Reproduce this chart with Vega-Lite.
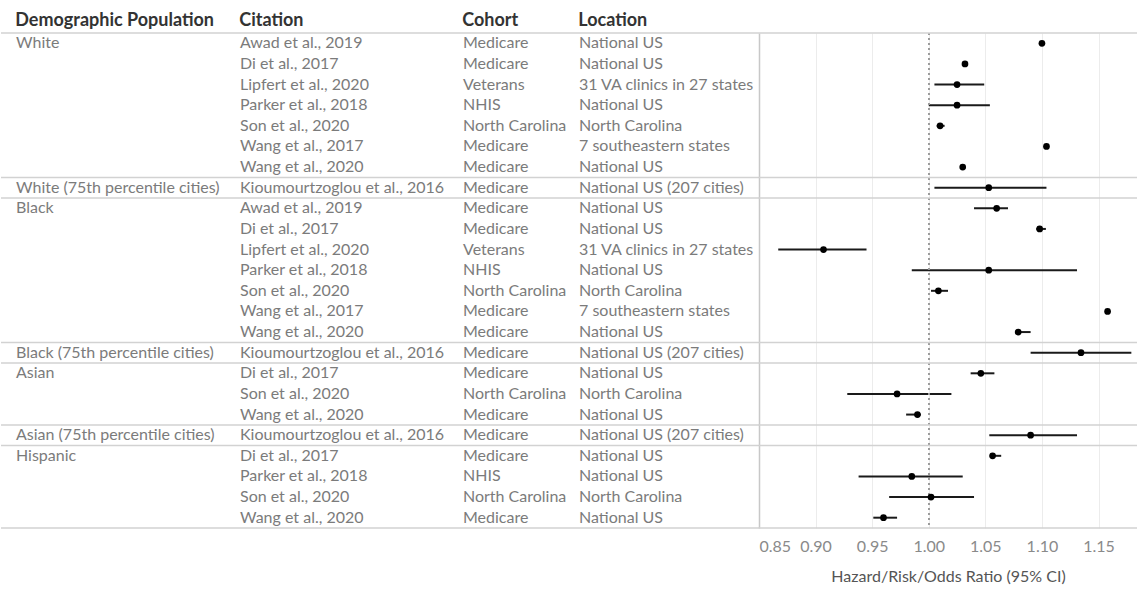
{
  "$schema": "https://vega.github.io/schema/vega-lite/v6.json",
  "padding": {"left": 0, "top": 12, "right": 2, "bottom": 5},
  "spacing": 0,
  "bounds": "flush",
  "background": "white",
  "config": {
    "view": {"stroke": null},
    "font": "Lato",
    "title": {"anchor": "start", "fontSize": 18, "fontWeight": "bold", "color": "#333333", "offset": 2, "font": "Lato"},
    "text": {"font": "Lato"}
  },
  "data": {"values": [
    {"row": 1, "group": "White", "citation": "Awad et al., 2019", "cohort": "Medicare", "location": "National US", "est": 1.100, "lo": 1.099, "hi": 1.101},
    {"row": 2, "group": "White", "citation": "Di et al., 2017", "cohort": "Medicare", "location": "National US", "est": 1.032, "lo": 1.030, "hi": 1.034},
    {"row": 3, "group": "White", "citation": "Lipfert et al., 2020", "cohort": "Veterans", "location": "31 VA clinics in 27 states", "est": 1.025, "lo": 1.005, "hi": 1.049},
    {"row": 4, "group": "White", "citation": "Parker et al., 2018", "cohort": "NHIS", "location": "National US", "est": 1.025, "lo": 1.000, "hi": 1.054},
    {"row": 5, "group": "White", "citation": "Son et al., 2020", "cohort": "North Carolina", "location": "North Carolina", "est": 1.010, "lo": 1.007, "hi": 1.014},
    {"row": 6, "group": "White", "citation": "Wang et al., 2017", "cohort": "Medicare", "location": "7 southeastern states", "est": 1.104, "lo": 1.103, "hi": 1.105},
    {"row": 7, "group": "White", "citation": "Wang et al., 2020", "cohort": "Medicare", "location": "National US", "est": 1.030, "lo": 1.029, "hi": 1.031},
    {"row": 8, "group": "White (75th percentile cities)", "citation": "Kioumourtzoglou et al., 2016", "cohort": "Medicare", "location": "National US (207 cities)", "est": 1.053, "lo": 1.005, "hi": 1.104},
    {"row": 9, "group": "Black", "citation": "Awad et al., 2019", "cohort": "Medicare", "location": "National US", "est": 1.060, "lo": 1.040, "hi": 1.070},
    {"row": 10, "group": "Black", "citation": "Di et al., 2017", "cohort": "Medicare", "location": "National US", "est": 1.098, "lo": 1.095, "hi": 1.1035},
    {"row": 11, "group": "Black", "citation": "Lipfert et al., 2020", "cohort": "Veterans", "location": "31 VA clinics in 27 states", "est": 0.907, "lo": 0.867, "hi": 0.945},
    {"row": 12, "group": "Black", "citation": "Parker et al., 2018", "cohort": "NHIS", "location": "National US", "est": 1.053, "lo": 0.985, "hi": 1.131},
    {"row": 13, "group": "Black", "citation": "Son et al., 2020", "cohort": "North Carolina", "location": "North Carolina", "est": 1.0085, "lo": 1.002, "hi": 1.017},
    {"row": 14, "group": "Black", "citation": "Wang et al., 2017", "cohort": "Medicare", "location": "7 southeastern states", "est": 1.158, "lo": 1.156, "hi": 1.160},
    {"row": 15, "group": "Black", "citation": "Wang et al., 2020", "cohort": "Medicare", "location": "National US", "est": 1.079, "lo": 1.077, "hi": 1.090},
    {"row": 16, "group": "Black (75th percentile cities)", "citation": "Kioumourtzoglou et al., 2016", "cohort": "Medicare", "location": "National US (207 cities)", "est": 1.1345, "lo": 1.090, "hi": 1.179},
    {"row": 17, "group": "Asian", "citation": "Di et al., 2017", "cohort": "Medicare", "location": "National US", "est": 1.046, "lo": 1.037, "hi": 1.058},
    {"row": 18, "group": "Asian", "citation": "Son et al., 2020", "cohort": "North Carolina", "location": "North Carolina", "est": 0.972, "lo": 0.928, "hi": 1.020},
    {"row": 19, "group": "Asian", "citation": "Wang et al., 2020", "cohort": "Medicare", "location": "National US", "est": 0.990, "lo": 0.980, "hi": 0.993},
    {"row": 20, "group": "Asian (75th percentile cities)", "citation": "Kioumourtzoglou et al., 2016", "cohort": "Medicare", "location": "National US (207 cities)", "est": 1.090, "lo": 1.0535, "hi": 1.131},
    {"row": 21, "group": "Hispanic", "citation": "Di et al., 2017", "cohort": "Medicare", "location": "National US", "est": 1.0564, "lo": 1.054, "hi": 1.064},
    {"row": 22, "group": "Hispanic", "citation": "Parker et al., 2018", "cohort": "NHIS", "location": "National US", "est": 0.985, "lo": 0.938, "hi": 1.030},
    {"row": 23, "group": "Hispanic", "citation": "Son et al., 2020", "cohort": "North Carolina", "location": "North Carolina", "est": 1.002, "lo": 0.965, "hi": 1.040},
    {"row": 24, "group": "Hispanic", "citation": "Wang et al., 2020", "cohort": "Medicare", "location": "National US", "est": 0.960, "lo": 0.951, "hi": 0.972}
  ]},
  "resolve": {"scale": {"y": "shared"}},
  "hconcat": [
    {
      "width": 235, "height": 495,
      "title": {"text": "Demographic Population", "dx": 15},
      "layer": [
        {
          "transform": [{"aggregate": [{"op": "min", "field": "row", "as": "row"}], "groupby": ["group"]}],
          "mark": {"type": "text", "align": "left", "baseline": "middle", "dx": 15, "fontSize": 16, "color": "#7b7b7b"},
          "encoding": {
            "y": {"field": "row", "type": "ordinal", "axis": null, "scale": {"type": "band", "paddingInner": 0, "paddingOuter": 0}},
            "x": {"datum": 0, "type": "quantitative", "scale": {"domain": [0, 1]}, "axis": null},
            "text": {"field": "group"}
          }
        },
        {
          "transform": [{"aggregate": [{"op": "min", "field": "row", "as": "row"}], "groupby": ["group"]}],
          "mark": {"type": "rule", "color": "#d2d2d2", "strokeWidth": 1.5},
          "encoding": {"y": {"field": "row", "type": "ordinal", "bandPosition": 0, "axis": null}}
        },
        {
          "transform": [{"aggregate": [{"op": "max", "field": "row", "as": "row"}]}],
          "mark": {"type": "rule", "color": "#d2d2d2", "strokeWidth": 1.5},
          "encoding": {"y": {"field": "row", "type": "ordinal", "bandPosition": 1, "axis": null}}
        }
      ]
    },
    {
      "width": 223, "height": 495,
      "title": {"text": "Citation", "dx": 4},
      "layer": [
        {
          "mark": {"type": "text", "align": "left", "baseline": "middle", "dx": 4, "fontSize": 16, "color": "#7b7b7b"},
          "encoding": {
            "y": {"field": "row", "type": "ordinal", "axis": null, "scale": {"type": "band", "paddingInner": 0, "paddingOuter": 0}},
            "x": {"datum": 0, "type": "quantitative", "scale": {"domain": [0, 1]}, "axis": null},
            "text": {"field": "citation"}
          }
        },
        {
          "transform": [{"aggregate": [{"op": "min", "field": "row", "as": "row"}], "groupby": ["group"]}],
          "mark": {"type": "rule", "color": "#d2d2d2", "strokeWidth": 1.5},
          "encoding": {"y": {"field": "row", "type": "ordinal", "bandPosition": 0, "axis": null}}
        },
        {
          "transform": [{"aggregate": [{"op": "max", "field": "row", "as": "row"}]}],
          "mark": {"type": "rule", "color": "#d2d2d2", "strokeWidth": 1.5},
          "encoding": {"y": {"field": "row", "type": "ordinal", "bandPosition": 1, "axis": null}}
        }
      ]
    },
    {
      "width": 116, "height": 495,
      "title": {"text": "Cohort", "dx": 4},
      "layer": [
        {
          "mark": {"type": "text", "align": "left", "baseline": "middle", "dx": 4, "fontSize": 16, "color": "#7b7b7b"},
          "encoding": {
            "y": {"field": "row", "type": "ordinal", "axis": null, "scale": {"type": "band", "paddingInner": 0, "paddingOuter": 0}},
            "x": {"datum": 0, "type": "quantitative", "scale": {"domain": [0, 1]}, "axis": null},
            "text": {"field": "cohort"}
          }
        },
        {
          "transform": [{"aggregate": [{"op": "min", "field": "row", "as": "row"}], "groupby": ["group"]}],
          "mark": {"type": "rule", "color": "#d2d2d2", "strokeWidth": 1.5},
          "encoding": {"y": {"field": "row", "type": "ordinal", "bandPosition": 0, "axis": null}}
        },
        {
          "transform": [{"aggregate": [{"op": "max", "field": "row", "as": "row"}]}],
          "mark": {"type": "rule", "color": "#d2d2d2", "strokeWidth": 1.5},
          "encoding": {"y": {"field": "row", "type": "ordinal", "bandPosition": 1, "axis": null}}
        }
      ]
    },
    {
      "width": 184, "height": 495,
      "title": {"text": "Location", "dx": 4},
      "layer": [
        {
          "mark": {"type": "text", "align": "left", "baseline": "middle", "dx": 4, "fontSize": 16, "color": "#7b7b7b"},
          "encoding": {
            "y": {"field": "row", "type": "ordinal", "axis": null, "scale": {"type": "band", "paddingInner": 0, "paddingOuter": 0}},
            "x": {"datum": 0, "type": "quantitative", "scale": {"domain": [0, 1]}, "axis": null},
            "text": {"field": "location"}
          }
        },
        {
          "transform": [{"aggregate": [{"op": "min", "field": "row", "as": "row"}], "groupby": ["group"]}],
          "mark": {"type": "rule", "color": "#d2d2d2", "strokeWidth": 1.5},
          "encoding": {"y": {"field": "row", "type": "ordinal", "bandPosition": 0, "axis": null}}
        },
        {
          "transform": [{"aggregate": [{"op": "max", "field": "row", "as": "row"}]}],
          "mark": {"type": "rule", "color": "#d2d2d2", "strokeWidth": 1.5},
          "encoding": {"y": {"field": "row", "type": "ordinal", "bandPosition": 1, "axis": null}}
        }
      ]
    },
    {
      "width": 378, "height": 495,
      "layer": [
        {
          "mark": {"type": "rule", "color": "#1a1a1a", "strokeWidth": 2},
          "encoding": {
            "y": {"field": "row", "type": "ordinal", "scale": {"type": "band", "paddingInner": 0, "paddingOuter": 0},
                  "axis": {"labels": false, "ticks": false, "domain": true, "domainColor": "#c8c8c8", "domainWidth": 1.5, "grid": false, "title": null}},
            "x": {"field": "lo", "type": "quantitative",
                  "scale": {"domain": [0.85, 1.184], "nice": false, "zero": false},
                  "axis": {"values": [0.85, 0.9, 0.95, 1.0, 1.05, 1.1, 1.15], "format": ".2f", "grid": true, "gridColor": "#ececec",
                           "ticks": false, "domain": false, "labelFlush": true, "labelFontSize": 16, "labelColor": "#8a8a8a",
                           "labelFont": "Lato", "labelPadding": 10,
                           "title": "Hazard/Risk/Odds Ratio (95% CI)", "titleFontSize": 16, "titleFontWeight": "normal",
                           "titleColor": "#555555", "titleFont": "Lato", "titlePadding": 14}},
            "x2": {"field": "hi"}
          }
        },
        {
          "mark": {"type": "rule", "color": "#9a9a9a", "strokeDash": [2, 3], "strokeWidth": 1},
          "encoding": {"x": {"datum": 1, "type": "quantitative"}}
        },
        {
          "transform": [{"aggregate": [{"op": "min", "field": "row", "as": "row"}], "groupby": ["group"]}],
          "mark": {"type": "rule", "color": "#d2d2d2", "strokeWidth": 1.5},
          "encoding": {"y": {"field": "row", "type": "ordinal", "bandPosition": 0}}
        },
        {
          "transform": [{"aggregate": [{"op": "max", "field": "row", "as": "row"}]}],
          "mark": {"type": "rule", "color": "#d2d2d2", "strokeWidth": 1.5},
          "encoding": {"y": {"field": "row", "type": "ordinal", "bandPosition": 1}}
        },
        {
          "mark": {"type": "point", "filled": true, "color": "#000000", "size": 45, "opacity": 1},
          "encoding": {
            "y": {"field": "row", "type": "ordinal"},
            "x": {"field": "est", "type": "quantitative"}
          }
        }
      ]
    }
  ]
}
